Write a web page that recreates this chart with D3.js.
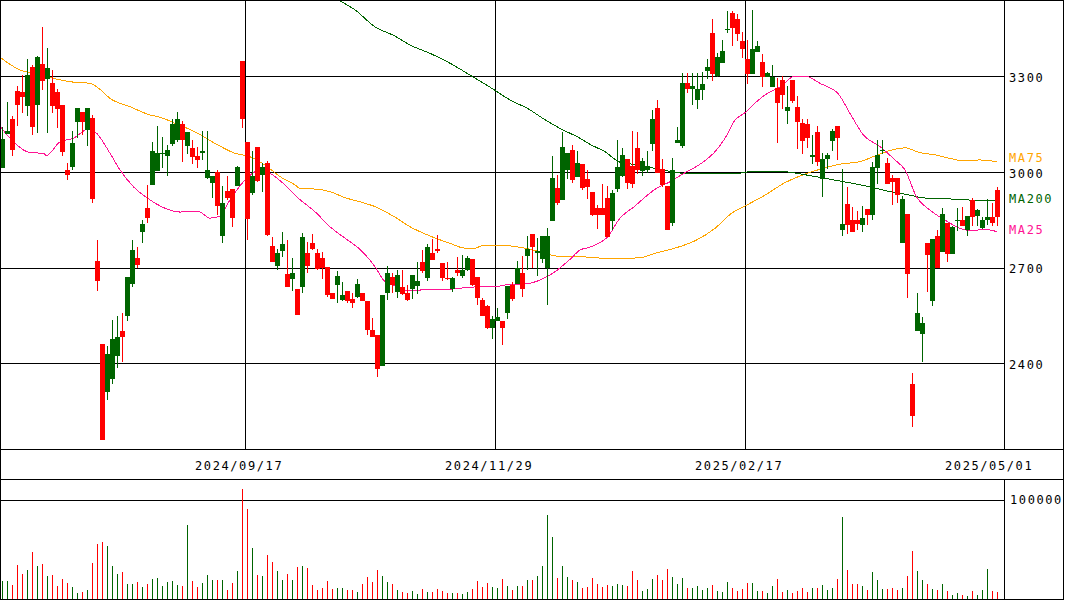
<!DOCTYPE html>
<html>
<head>
<meta charset="utf-8">
<script src="https://cdn.jsdelivr.net/npm/d3@7"></script>
<style>
  html, body { margin: 0; padding: 0; background: #fff; }
  svg { display: block; }
  text { font-family: "DejaVu Sans Mono", monospace; font-size: 12px; letter-spacing: 1.6px; }
</style>
</head>
<body>
<svg id="chart" width="1065" height="600"></svg>
<script>
// Daily OHLC, 200 sessions (oldest first)
const opens = [3013,3118,3166,3253,3250,3206,3329,3210,3337,3291,
 3278,3250,3209,3006,3015,3156,3187,3131,3169,2722,
 2462,2309,2350,2422,2500,2548,2650,2731,2812,2887,
 2960,3003,3056,3051,3087,3100,3150,3081,3075,3050,
 3058,2982,2966,3000,2798,2941,2947,2957,3347,3094,
 2934,3078,2991,3028,2769,2706,2753,2681,2665,2634,
 2638,2747,2778,2747,2731,2703,2619,2645,2600,2628,
 2603,2609,2622,2597,2504,2488,2391,2619,2672,2625,
 2638,2619,2634,2641,2719,2669,2747,2757,2713,2669,
 2634,2691,2675,2691,2728,2672,2600,2579,2510,2534,
 2534,2559,2647,2650,2684,2735,2806,2747,2728,2700,
 2847,2950,2913,3006,3069,2984,3025,2978,2938,2888,
 2888,2919,2847,2947,2988,3041,3019,3075,3003,3006,
 3088,3200,3009,2956,2841,3091,3081,3278,3259,3225,
 3256,3316,3434,3300,3341,3444,3497,3478,3409,3353,
 3306,3375,3344,3297,3266,3263,3288,3191,3288,3203,
 3153,3150,3047,3125,2978,3041,3097,3144,2819,2900,
 2850,2850,2834,2884,2866,3013,3066,3028,2981,2981,
 2778,2869,2334,2500,2491,2778,2597,2800,2750,2841,
 2744,2847,2850,2819,2913,2863,2824,2848,2859,2942];

const highs = [3141,3219,3175,3269,3302,3353,3334,3363,3454,3387,
 3319,3259,3209,3028,3128,3200,3187,3200,3178,2787,
 2462,2456,2537,2550,2559,2672,2787,2765,2850,2959,
 3094,3144,3109,3084,3166,3187,3159,3125,3100,3078,
 3128,3128,2988,3006,2956,2988,2947,3019,3347,3094,
 3065,3078,3029,3034,2797,2759,2812,2787,2731,2634,
 2809,2781,2806,2759,2750,2703,2619,2688,2656,2628,
 2619,2663,2622,2597,2541,2488,2613,2706,2684,2691,
 2694,2647,2678,2719,2756,2775,2791,2803,2713,2719,
 2672,2734,2738,2735,2728,2672,2606,2584,2550,2575,
 2534,2641,2656,2722,2735,2800,2806,2794,2800,2825,
 3050,2991,3125,3059,3084,3066,3025,3006,2938,2897,
 2963,2956,2944,3100,3075,3041,3128,3125,3044,3066,
 3194,3225,3041,2956,3044,3141,3309,3309,3309,3309,
 3313,3353,3478,3371,3413,3503,3503,3494,3438,3413,
 3506,3409,3369,3312,3334,3294,3300,3269,3288,3238,
 3166,3166,3116,3144,3059,3059,3134,3144,3009,2953,
 2891,2878,2894,2884,3031,3100,3100,3044,2991,2981,
 2925,2869,2369,2619,2544,2778,2791,2819,2888,2841,
 2831,2888,2891,2863,2919,2884,2859,2915,2902,2951];

const lows = [3013,3117,3048,3142,3185,3176,3115,3123,3256,3123,
 3185,3138,3048,2975,3006,3106,3115,3081,2903,2628,
 2159,2284,2334,2387,2403,2534,2640,2700,2778,2840,
 2960,3003,3012,2988,3081,3093,3031,3056,3025,3012,
 3037,2978,2919,2865,2776,2912,2828,2957,3138,2787,
 2928,2969,2938,2800,2719,2694,2734,2638,2628,2553,
 2622,2684,2756,2694,2665,2609,2603,2590,2597,2590,
 2575,2606,2594,2488,2484,2356,2391,2600,2622,2606,
 2615,2594,2603,2616,2684,2659,2725,2747,2659,2662,
 2625,2675,2669,2690,2641,2584,2547,2509,2475,2534,
 2459,2538,2594,2650,2609,2691,2700,2675,2715,2584,
 2847,2897,2912,2978,2966,2984,2944,2916,2862,2822,
 2865,2797,2819,2938,2984,2947,2950,2994,2988,2996,
 3066,2997,2953,2819,2831,3090,3075,3247,3209,3197,
 3225,3291,3284,3297,3340,3434,3394,3409,3356,3275,
 3306,3375,3266,3297,3265,3091,3197,3150,3216,3072,
 3056,3075,3025,3019,2922,3009,3066,3038,2800,2806,
 2813,2819,2813,2834,2850,2963,3056,2963,2897,2903,
 2778,2606,2200,2500,2403,2625,2581,2700,2750,2719,
 2743,2816,2831,2800,2831,2831,2822,2834,2831,2829];

const closes = [3103,3128,3067,3210,3235,3303,3141,3360,3285,3325,
 3206,3198,3063,2991,3091,3200,3156,3200,2915,2659,
 2159,2428,2475,2484,2484,2672,2756,2709,2837,2856,
 3065,3059,3060,3069,3150,3166,3100,3125,3047,3038,
 3065,3006,2988,2894,2903,2919,2856,3016,3164,2853,
 2988,2972,3016,2803,2719,2747,2775,2640,2684,2553,
 2797,2706,2759,2697,2700,2613,2603,2675,2613,2594,
 2588,2650,2594,2506,2484,2384,2613,2684,2644,2678,
 2616,2600,2678,2659,2688,2765,2725,2751,2666,2663,
 2666,2684,2691,2731,2644,2606,2547,2510,2538,2544,
 2510,2641,2603,2700,2634,2759,2763,2753,2800,2800,
 2982,2903,3078,3059,2975,3028,2950,2953,2866,2866,
 2866,2797,2934,3016,3053,2966,2963,3006,3034,3019,
 3166,2997,2959,2819,3006,3100,3278,3259,3269,3259,
 3275,3328,3306,3359,3378,3447,3450,3431,3384,3306,
 3384,3394,3297,3309,3297,3216,3241,3203,3222,3156,
 3097,3106,3053,3031,3041,3053,3128,3106,2838,2834,
 2813,2838,2856,2866,3016,3053,3069,2963,2969,2928,
 2916,2681,2234,2559,2528,2738,2791,2700,2869,2744,
 2828,2850,2831,2863,2859,2879,2850,2859,2840,2859];

// Daily volume (shares)
const volumes = [18800,18800,14400,34500,25500,29500,47600,33500,35500,23500,
 24500,13400,20400,16400,12400,6400,7400,9400,36500,55600,
 57600,53600,33500,25500,27500,15400,15400,17400,12400,15400,
 20400,21400,13400,17400,18400,14400,13400,74700,18400,12400,
 16400,24500,19400,19400,19400,9400,16400,28500,110900,90800,
 51600,24500,23500,44600,37500,28500,19400,25500,19400,32500,
 33500,31500,14400,9400,11400,18400,10400,11400,11400,9400,
 9400,7400,15400,22400,17400,29500,23500,17400,15400,9400,
 7400,6400,8400,5400,10400,7400,7400,10400,8400,6400,
 6400,6400,5400,7400,10400,18400,12400,16400,12400,11400,
 20400,13400,9400,13400,13400,19400,19400,23500,33500,84800,
 62600,21400,33500,22400,19400,17400,11400,12400,21400,15400,
 12400,14400,13400,15400,14400,13400,28500,19400,8400,10400,
 20400,24500,19400,30500,22400,15400,21400,11400,11400,13400,
 9400,11400,14400,8400,7400,17400,11400,8400,10400,16400,
 16400,8400,8400,6400,13400,20400,7400,9400,6400,8400,
 11400,7400,11400,11400,14400,9400,11400,20400,82700,29500,
 15400,15400,13400,9400,27500,19400,10400,10400,11400,9400,
 11400,23500,48600,28500,19400,15400,10400,9400,15400,8400,
 4400,6400,4400,3400,8400,4400,9400,30500,8400,7400];

// Moving averages: position (sessions from the left edge) and value
const ma25Pos = [0,3,6,8.7,9.3,12,14.7,17.7,19.3,22,24,26.7,30,34,36,38,40,42,44,46,49,52,54,57,59.7,63,66,69,72,75,77,79,81,83,85,88,91,96,99,102,105,108,111,114,116,118,119,121.7,123.7,127,131,134,137,140.3,143,145,147,149,151,153,156,159,161,164,167.7,170,172.7,176,179,181,183.3,186,189,192,194,196,198,199.5];
const ma25Val = [3143,3089,3060,3058,3051,3094,3105,3134,3121,3058,3006,2953,2912,2880,2874,2877,2874,2855,2862,2912,2974,3006,2995,2959,2917,2875,2828,2792,2757,2703,2656,2643,2630,2627,2632,2630,2634,2640,2640,2648,2649,2661,2687,2726,2755,2764,2771,2799,2849,2893,2945,2969,2997,3027,3063,3105,3162,3185,3215,3241,3265,3300,3300,3277,3243,3183,3115,3079,3037,3006,2922,2880,2849,2823,2816,2818,2818,2811];

const ma75Pos = [0,4,6,10,14,18,20,22,26,30,32,35,39,43,47,50,53,56,59,60,63,66,69,72,75,79,82,86,90,93,95,96.7,101,105,109,111.3,115,118,123,128,131,135,139,143,146.3,149,153,157,160,164,168,172,176,179,181,184,187,190,192,196,199.3];
const ma75Val = [3359,3319,3310,3295,3282,3277,3258,3230,3204,3178,3171,3152,3125,3089,3058,3047,3021,2985,2959,2948,2946,2938,2919,2906,2891,2858,2828,2799,2776,2761,2761,2770,2769,2761,2745,2736,2736,2732,2728,2731,2745,2761,2784,2823,2870,2893,2927,2966,2987,3008,3024,3032,3056,3071,3075,3060,3053,3042,3036,3037,3032];

const ma200Pos = [68,71,75,79,82,86,90,94,98,102,106,108,112,116,118,121,124,128,133,137,145,148,151,157,162,168,174,178,180,182,184,186.7,190,193.3,199.3];
const ma200Val = [3535,3507,3454,3425,3397,3371,3340,3303,3265,3225,3194,3173,3136,3105,3086,3063,3030,3021,3004,2995,2994,2996,3002,3000,2988,2971,2953,2938,2933,2927,2920,2916,2915,2912,2909];

// Axis labels
const priceTicks = [2400, 2700, 3000, 3300];
const volumeTicks = [100000];
const dateTickIndex = [49, 99, 149, 199];
const dateTickLabels = ["2024/09/17", "2024/11/29", "2025/02/17", "2025/05/01"];

const UP = "#006400", DOWN = "#ff0000";
const maSeries = [
  { name: "MA75",  pos: ma75Pos,  val: ma75Val,  color: "#ffa500", shift: -3.5 },
  { name: "MA200", pos: ma200Pos, val: ma200Val, color: "#006400", shift: -2.5 },
  { name: "MA25",  pos: ma25Pos,  val: ma25Val,  color: "#ff1493", shift: -2 }
];

const n = closes.length;
const candles = d3.range(n).map(i => ({
  i, o: opens[i], h: highs[i], l: lows[i], c: closes[i], v: volumes[i]
}));

const svg = d3.select("#chart");
const PW = 1004;          // plot width (price & volume panels)
const PH = 449;           // price panel bottom
const VT = 479, VB = 599; // volume panel top / bottom

const x = d3.scaleBand().domain(d3.range(n)).range([0, 1000]);
const xPos = d3.scaleLinear().domain([0, n]).range([0, 1000]);
const y = d3.scaleLinear().domain([2132, 3538]).range([PH, 0]);
const yv = d3.scaleLinear().domain([0, 100000]).range([599.5, 500]);

const crisp = v => Math.round(v) + 0.5;

svg.append("defs").append("clipPath").attr("id", "pclip")
  .append("rect").attr("x", 0).attr("y", 0).attr("width", PW).attr("height", PH);

// grid lines
const grid = svg.append("g").attr("stroke", "#000").attr("stroke-width", 1).attr("shape-rendering", "crispEdges");
grid.selectAll("line.h").data(priceTicks).join("line")
  .attr("x1", 0).attr("x2", PW)
  .attr("y1", d => crisp(y(d))).attr("y2", d => crisp(y(d)));
grid.selectAll("line.v").data(dateTickIndex.filter(d => d < n - 1)).join("line")
  .attr("y1", 0).attr("y2", PH)
  .attr("x1", d => x(d) + 0.5).attr("x2", d => x(d) + 0.5);
grid.selectAll("line.vol").data(volumeTicks).join("line")
  .attr("x1", 0).attr("x2", PW)
  .attr("y1", d => crisp(yv(d))).attr("y2", d => crisp(yv(d)));

// moving averages
const plot = svg.append("g").attr("clip-path", "url(#pclip)");
const line = d3.line().x(d => xPos(d[0])).y(d => y(d[1])).curve(d3.curveMonotoneX);
plot.selectAll("path.ma").data(maSeries).join("path")
  .attr("fill", "none")
  .attr("stroke", d => d.color)
  .attr("stroke-width", 1)
  .attr("shape-rendering", "crispEdges")
  .attr("d", d => line(d.pos.map((p, k) => [p, d.val[k]])));

// candles
const cg = plot.append("g").attr("shape-rendering", "crispEdges");
const col = d => d.c >= d.o ? UP : DOWN;
cg.selectAll("rect.wick").data(candles).join("rect")
  .attr("x", d => x(d.i) + 2).attr("width", 1)
  .attr("y", d => Math.round(y(d.h)))
  .attr("height", d => Math.max(1, Math.round(y(d.l)) - Math.round(y(d.h))))
  .attr("fill", col);
cg.selectAll("rect.body").data(candles).join("rect")
  .attr("x", d => x(d.i)).attr("width", 5)
  .attr("y", d => Math.round(y(Math.max(d.o, d.c))))
  .attr("height", d => Math.max(1, Math.round(y(Math.min(d.o, d.c))) - Math.round(y(Math.max(d.o, d.c)))))
  .attr("fill", col);

// volume bars
svg.append("g").attr("shape-rendering", "crispEdges")
  .selectAll("rect").data(candles).join("rect")
  .attr("x", d => x(d.i) + 2).attr("width", 1)
  .attr("y", d => Math.round(yv(d.v)))
  .attr("height", d => VB - Math.round(yv(d.v)))
  .attr("fill", col);

// frames
const fr = svg.append("g").attr("stroke", "#000").attr("fill", "none").attr("shape-rendering", "crispEdges");
fr.append("rect").attr("x", 0.5).attr("y", 0.5).attr("width", 1063).attr("height", 599);
fr.append("line").attr("x1", 0).attr("x2", 1064).attr("y1", PH + 0.5).attr("y2", PH + 0.5);
fr.append("line").attr("x1", 0).attr("x2", 1064).attr("y1", VT + 0.5).attr("y2", VT + 0.5);
fr.append("line").attr("x1", PW + 0.5).attr("x2", PW + 0.5).attr("y1", 0).attr("y2", PH);
fr.append("line").attr("x1", PW + 0.5).attr("x2", PW + 0.5).attr("y1", VT).attr("y2", VB + 1);

// right-hand price axis
const yAxis = d3.axisRight(y).tickValues(priceTicks).tickSize(0).tickPadding(5).tickFormat(d3.format("d"));
const ya = svg.append("g").attr("transform", `translate(${PW},1.5)`).call(yAxis);
ya.select(".domain").remove();
ya.selectAll("text").attr("fill", "#000").style("font-family", "DejaVu Sans Mono").style("font-size", "12px");

// volume axis
const vAxis = d3.axisRight(yv).tickValues(volumeTicks).tickSize(0).tickPadding(6).tickFormat(d3.format("d"));
const va = svg.append("g").attr("transform", `translate(${PW},0)`).call(vAxis);
va.select(".domain").remove();
va.selectAll("text").attr("fill", "#000").style("font-family", "DejaVu Sans Mono").style("font-size", "12px");

// date labels
svg.append("g").selectAll("text").data(dateTickIndex).join("text")
  .attr("x", d => x(d) - 50)
  .attr("y", 469.5)
  .attr("fill", "#000")
  .text((d, k) => dateTickLabels[k]);

// moving-average labels at the last value
svg.append("g").selectAll("text").data(maSeries).join("text")
  .attr("x", PW + 5)
  .attr("y", d => y(d.val[d.val.length - 1]) + d.shift)
  .attr("dy", "0.35em")
  .attr("fill", d => d.color)
  .text(d => d.name);
</script>
</body>
</html>
